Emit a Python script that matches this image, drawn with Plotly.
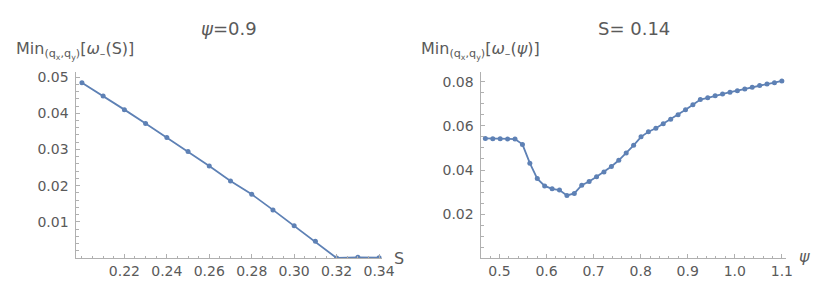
import plotly.graph_objects as go

# Left panel: psi = 0.9
S_vals = [0.20, 0.21, 0.22, 0.23, 0.24, 0.25, 0.26, 0.27, 0.28, 0.29, 0.30, 0.31, 0.32, 0.33, 0.34]
omega_S = [0.0484, 0.0448, 0.0410, 0.0372, 0.0333, 0.0294, 0.0254, 0.0213, 0.0176, 0.0133,
           0.0089, 0.0046, 0.0000, 0.0002, 0.0001]

# Right panel: S = 0.14
psi_vals = [0.47, 0.4858, 0.5015, 0.5173, 0.533, 0.5488, 0.5645, 0.5803, 0.596, 0.6118,
            0.6275, 0.6433, 0.659, 0.6748, 0.6905, 0.7063, 0.722, 0.7378, 0.7535, 0.7693,
            0.785, 0.8008, 0.8165, 0.8323, 0.848, 0.8638, 0.8795, 0.8953, 0.911, 0.9268,
            0.9425, 0.9583, 0.974, 0.9898, 1.0055, 1.0213, 1.037, 1.0528, 1.0685, 1.0843, 1.1]
omega_psi = [0.0543, 0.0542, 0.0542, 0.0540, 0.0540, 0.0516, 0.0431, 0.0361, 0.0328, 0.0315,
             0.0309, 0.0285, 0.0294, 0.0331, 0.0348, 0.0369, 0.0391, 0.0416, 0.0444, 0.0477,
             0.0512, 0.0550, 0.0573, 0.0589, 0.0609, 0.0630, 0.0650, 0.0673, 0.0695, 0.0719,
             0.0727, 0.0736, 0.0744, 0.0752, 0.0759, 0.0767, 0.0774, 0.0782, 0.0789, 0.0795, 0.0803]

left_xticks = [0.22, 0.24, 0.26, 0.28, 0.30, 0.32, 0.34]
left_xlabels = ["0.22", "0.24", "0.26", "0.28", "0.30", "0.32", "0.34"]
left_yticks = [0.01, 0.02, 0.03, 0.04, 0.05]
left_ylabels = ["0.01", "0.02", "0.03", "0.04", "0.05"]
right_xticks = [0.5, 0.6, 0.7, 0.8, 0.9, 1.0, 1.1]
right_xlabels = ["0.5", "0.6", "0.7", "0.8", "0.9", "1.0", "1.1"]
right_yticks = [0.02, 0.04, 0.06, 0.08]
right_ylabels = ["0.02", "0.04", "0.06", "0.08"]

LINE = "rgb(94,129,181)"
AXIS = "#b0b0b0"
TXT = "#5a5a5a"
FONT = "DejaVu Sans"

W, H = 829, 287
def px(x):
    return x / W
def py(y):
    return 1 - y / H

fig = go.Figure()
fig.add_trace(go.Scatter(x=S_vals, y=omega_S, mode="lines+markers",
                         line=dict(color=LINE, width=1.8),
                         marker=dict(color=LINE, size=5), xaxis="x", yaxis="y",
                         showlegend=False))
fig.add_trace(go.Scatter(x=psi_vals, y=omega_psi, mode="lines+markers",
                         line=dict(color=LINE, width=1.8),
                         marker=dict(color=LINE, size=5), xaxis="x2", yaxis="y2",
                         showlegend=False))

def axis_common(**kw):
    d = dict(showgrid=False, zeroline=False, showline=True, linecolor=AXIS, linewidth=1,
             ticks="inside", ticklen=4, tickcolor=AXIS, tickwidth=1,
             tickfont=dict(family=FONT, size=14, color=TXT), tickmode="array")
    d.update(kw)
    return d

ydom = [py(250), py(62)]
fig.update_layout(
    width=W, height=H, margin=dict(l=0, r=0, t=0, b=0),
    paper_bgcolor="white", plot_bgcolor="white",
    xaxis=axis_common(domain=[px(69.5), px(380)], range=[0.1974, 0.3414],
                      tickvals=left_xticks, ticktext=left_xlabels, anchor="y",
                      ticklabelstandoff=0,
                      minor=dict(tickmode="linear", tick0=0, dtick=0.005, ticklen=2.5,
                                 tickcolor=AXIS, ticks="inside")),
    yaxis=axis_common(domain=ydom, range=[-0.0001, 0.0513],
                      tickvals=left_yticks, ticktext=left_ylabels, anchor="x",
                      ticklabelstandoff=4,
                      minor=dict(tickmode="linear", tick0=0, dtick=0.002, ticklen=2.5,
                                 tickcolor=AXIS, ticks="inside")),
    xaxis2=axis_common(domain=[px(481), px(790)], range=[0.4617, 1.108],
                       tickvals=right_xticks, ticktext=right_xlabels, anchor="y2",
                       ticklabelstandoff=0,
                       minor=dict(tickmode="linear", tick0=0, dtick=0.02, ticklen=2.5,
                                  tickcolor=AXIS, ticks="inside")),
    yaxis2=axis_common(domain=ydom, range=[0, 0.0842],
                       tickvals=right_yticks, ticktext=right_ylabels, anchor="x2",
                       ticklabelstandoff=4,
                       minor=dict(tickmode="linear", tick0=0, dtick=0.005, ticklen=2.5,
                                  tickcolor=AXIS, ticks="inside")),
)

ann_font = dict(family=FONT, size=16, color=TXT)
annotations = [
    dict(text="<i>ψ</i>=0.9", x=px(225), y=py(18), font=dict(family=FONT, size=18, color=TXT)),
    dict(text="S= 0.14", x=px(636), y=py(18), font=dict(family=FONT, size=18, color=TXT)),
    dict(text="Min<sub>(q<sub>x</sub>,q<sub>y</sub>)</sub>[<i>ω</i><sub>–</sub>(S)]",
         x=px(6), y=py(40), xanchor="left", font=ann_font),
    dict(text="Min<sub>(q<sub>x</sub>,q<sub>y</sub>)</sub>[<i>ω</i><sub>–</sub>(<i>ψ</i>)]",
         x=px(418), y=py(40), xanchor="left", font=ann_font),
    dict(text="S", x=px(397), y=py(250), font=dict(family=FONT, size=16, color=TXT)),
    dict(text="<i>ψ</i>", x=px(809), y=py(248), font=dict(family=FONT, size=16, color=TXT)),
]
for a in annotations:
    a.setdefault("xref", "paper")
    a.setdefault("yref", "paper")
    a.setdefault("showarrow", False)
    a.setdefault("xanchor", "center")
    a.setdefault("yanchor", "middle")
fig.update_layout(annotations=annotations)

fig.write_html("out.html")
